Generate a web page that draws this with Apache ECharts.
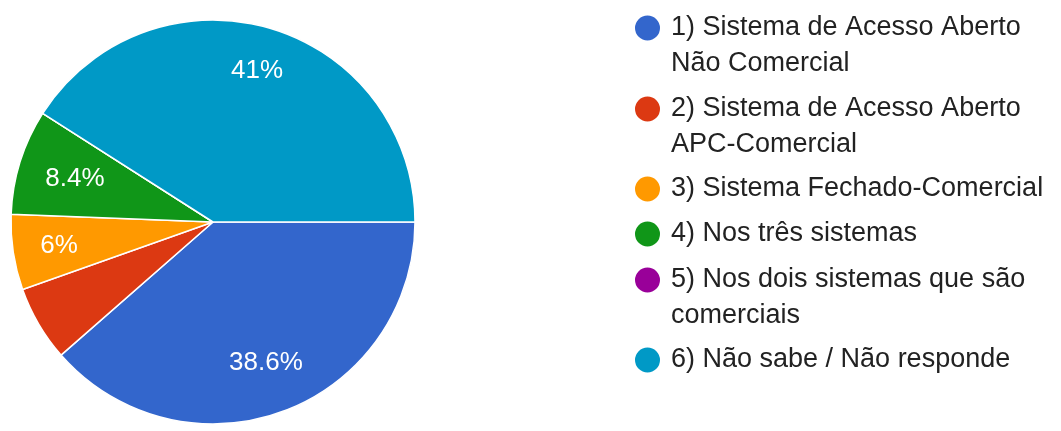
<!DOCTYPE html>
<html>
<head>
<meta charset="utf-8">
<script src="https://cdn.jsdelivr.net/npm/echarts@6/dist/echarts.min.js"></script>
<style>
  html, body { margin: 0; padding: 0; background: #fff; }
  #chart { width: 1061px; height: 431px; }
</style>
</head>
<body>
<div id="chart"></div>
<script>
// Answer options (line breaks mark where the legend text wraps)
const categories = [
  '1) Sistema de Acesso Aberto\nNão Comercial',
  '2) Sistema de Acesso Aberto\nAPC-Comercial',
  '3) Sistema Fechado-Comercial',
  '4) Nos três sistemas',
  '5) Nos dois sistemas que são\ncomerciais',
  '6) Não sabe / Não responde'
];
// Number of responses per option
const responses = [32, 5, 5, 7, 0, 34];
const sliceColors = ['#3366cc', '#dc3912', '#ff9900', '#109618', '#990099', '#0099c6'];
// Slices whose percentage is not printed on the pie
const unlabeledSlices = [1];

const FONT = '"Liberation Sans", Arial, Helvetica, sans-serif';
const PIE_CENTER = [213, 222];
const PIE_RADIUS = 202;
const LABEL_SIZE = 26;
const LABEL_REACH = 176; // farthest corner of a slice label from the pie centre
const LINE = 36;         // legend line height
const ITEM_GAP = 9;      // space between legend entries
const ICON = 27;         // marker diameter

const total = responses.reduce((a, b) => a + b, 0);
const pct = v => parseFloat((v / total * 100).toFixed(1)) + '%';

const sliceData = categories.map((name, i) => ({
  name,
  value: responses[i],
  itemStyle: { color: sliceColors[i] },
  label: { show: responses[i] > 0 && !unlabeledSlices.includes(i) }
}));

// Marker drawn in the top line of a text block that is `lines` lines tall,
// so the dot sits beside the first line of a wrapped entry.
function markerPath(lines) {
  const h = lines * LINE;
  const r = ICON / 2;
  const cy = LINE / 2;
  return 'path://M0,0L0,0M0,' + h + 'L0,' + h +
    'M' + r + ',' + (cy - r) +
    'A' + r + ',' + r + ',0,1,1,' + r + ',' + (cy + r) +
    'A' + r + ',' + r + ',0,1,1,' + r + ',' + (cy - r) + 'Z';
}

// One legend block per entry, stacked downwards
let iconCenter = 27;
const legends = categories.map(name => {
  const lines = name.split('\n').length;
  const lg = {
    orient: 'vertical',
    left: 633,
    top: iconCenter - LINE / 2,
    padding: 0,
    icon: lines > 1 ? markerPath(lines) : 'circle',
    itemWidth: ICON,
    itemHeight: lines > 1 ? lines * LINE : ICON,
    selectedMode: false,
    data: [{ name, textStyle: { padding: [0, 0, 0, 5] } }],
    textStyle: { fontFamily: FONT, fontSize: 27, lineHeight: LINE, color: '#222' }
  };
  iconCenter += lines * LINE + ITEM_GAP;
  return lg;
});

// Slide each percentage along its slice's middle direction so that the
// text box reaches a fixed distance from the centre.
function placeLabel(params) {
  const r = params.labelRect;
  let ux = r.x + r.width / 2 - PIE_CENTER[0];
  let uy = r.y + r.height / 2 - PIE_CENTER[1];
  const len = Math.hypot(ux, uy) || 1;
  ux /= len; uy /= len;
  const hw = r.width / 2, hh = LABEL_SIZE * 0.4;
  const reach = t => Math.hypot(Math.abs(t * ux) + hw, Math.abs(t * uy) + hh);
  let lo = 0, hi = PIE_RADIUS;
  for (let k = 0; k < 40; k++) {
    const m = (lo + hi) / 2;
    if (reach(m) < LABEL_REACH) lo = m; else hi = m;
  }
  return { x: PIE_CENTER[0] + lo * ux, y: PIE_CENTER[1] + lo * uy };
}

const chart = echarts.init(document.getElementById('chart'));
chart.setOption({
  animation: false,
  legend: legends,
  series: [
    {
      type: 'pie',
      center: PIE_CENTER,
      radius: PIE_RADIUS,
      startAngle: 0,
      clockwise: true,
      silent: true,
      itemStyle: { borderColor: '#fff', borderWidth: 1.5 },
      labelLine: { show: false },
      label: {
        position: 'inside',
        color: '#fff',
        fontFamily: FONT,
        fontSize: LABEL_SIZE,
        formatter: p => pct(p.value)
      },
      labelLayout: placeLabel,
      data: sliceData
    }
  ]
});
</script>
</body>
</html>
